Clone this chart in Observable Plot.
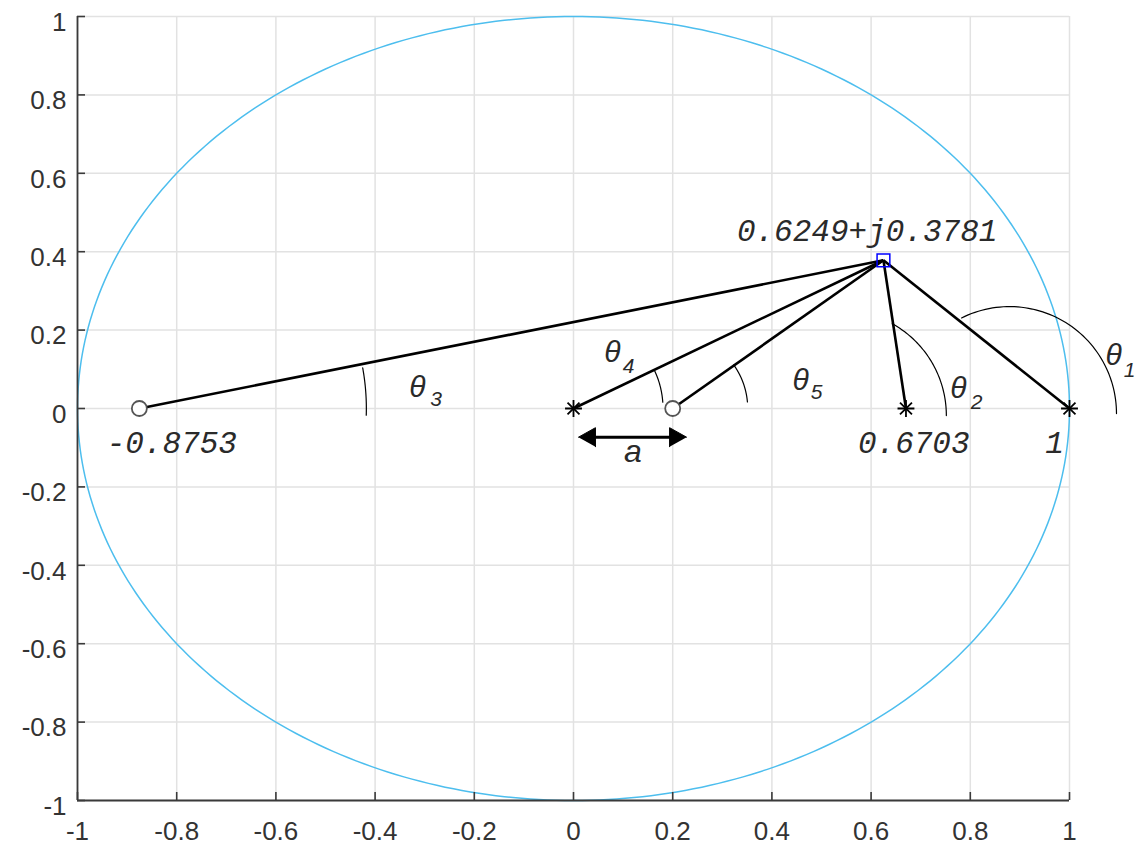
<!DOCTYPE html>
<html>
<head>
<meta charset="utf-8">
<script src="https://cdn.jsdelivr.net/npm/d3@7"></script>
<script src="https://cdn.jsdelivr.net/npm/@observablehq/plot@0.6"></script>
<style>
  body { margin: 0; background: #fff; }
  #chart svg { display: block; }
  [aria-label="ticklabel"] { letter-spacing: 1.5px; }
</style>
</head>
<body>
<div id="chart"></div>
<script>
// ---------- data ----------
const xTicks = [-1, -0.8, -0.6, -0.4, -0.2, 0, 0.2, 0.4, 0.6, 0.8, 1];
const xTickLabels = ["-1", "-0.8", "-0.6", "-0.4", "-0.2", "0", "0.2", "0.4", "0.6", "0.8", "1"];
const yTicks = [-1, -0.8, -0.6, -0.4, -0.2, 0, 0.2, 0.4, 0.6, 0.8, 1];
const yTickLabels = ["-1", "-0.8", "-0.6", "-0.4", "-0.2", "0", "0.2", "0.4", "0.6", "0.8", "1"];

const pointX = 0.6249;
const pointY = 0.3781;
const pointLabel = "0.6249+j0.3781";
const pointLabelPos = [0.592, 0.452];

const zeros = [-0.8753, 0.2];      // 'o' markers
const poles = [0, 0.6703, 1];      // '*' markers

const valueLabels = ["-0.8753", "0.6703", "1"];
const valueLabelX = [-0.81, 0.686, 0.97];
const valueLabelY = -0.087;

// angle arcs: centre (data), radius (px), start/end angle (deg)
const arcNames = ["θ1", "θ2", "θ3", "θ4", "θ5"];
const arcCx = [0.879, 0.540, -0.8753, 0, 0.2];
const arcCy = [-0.013, -0.018, 0, 0, 0];
const arcR = [107, 105, 227, 89.5, 75];
const arcA0 = [0, 0, -1.7, 4, 5];
const arcA1 = [116.6, 61, 10.3, 25, 35.5];

// angle labels: θ + subscript
const angleSubs = ["1", "2", "3", "4", "5"];
const angleLabelX = [1.089, 0.776, -0.3145, 0.0786, 0.4577];
const angleLabelY = [0.135, 0.051, 0.053, 0.143, 0.071];
const angleSubX = [1.121, 0.8125, -0.277, 0.111, 0.4899];
const angleSubY = [0.098, 0.016, 0.024, 0.107, 0.041];

// distance arrow "a"
const arrowX = [0.01, 0.228];
const arrowY = -0.0732;
const arrowLabel = "a";
const arrowLabelPos = [0.1195, -0.1105];

// ---------- layout ----------
const W = 1137, H = 847;
const mL = 77, mR = 68, mT = 16, mB = 47;
const kx = (W - mL - mR) / 2, ky = (H - mT - mB) / 2;

const gridColor = "#e2e2e2";
const axisColor = "#3a3a3a";
const textColor = "#2a2a2a";
const monoFont = "'Liberation Mono', 'Courier New', monospace";
const sansFont = "'Liberation Sans', Arial, sans-serif";

// unit circle
const circle = d3.range(0, 361, 1).map(t => ({x: Math.cos(t * Math.PI / 180), y: Math.sin(t * Math.PI / 180)}));

// arcs (pixel-circular)
const arcPts = [];
arcNames.forEach((n, i) => {
  const step = (arcA1[i] - arcA0[i]) / 60;
  for (let k = 0; k <= 60; k++) {
    const t = (arcA0[i] + k * step) * Math.PI / 180;
    arcPts.push({id: n, x: arcCx[i] + arcR[i] * Math.cos(t) / kx, y: arcCy[i] + arcR[i] * Math.sin(t) / ky});
  }
});

// arrow heads (filled triangles)
const headLen = 17 / kx, headHalf = 9.5 / ky;
const heads = [
  {id: "L", x: arrowX[0], y: arrowY}, {id: "L", x: arrowX[0] + headLen, y: arrowY + headHalf}, {id: "L", x: arrowX[0] + headLen, y: arrowY - headHalf},
  {id: "R", x: arrowX[1], y: arrowY}, {id: "R", x: arrowX[1] - headLen, y: arrowY + headHalf}, {id: "R", x: arrowX[1] - headLen, y: arrowY - headHalf}
];
const shaft = [{x: arrowX[0] + headLen * 0.5, y: arrowY}, {x: arrowX[1] - headLen * 0.5, y: arrowY}];

const targets = [...zeros, ...poles];

const chart = Plot.plot({
  width: W, height: H,
  marginLeft: mL, marginRight: mR, marginTop: mT, marginBottom: mB,
  x: {domain: [-1, 1], axis: null},
  y: {domain: [-1, 1], axis: null},
  style: {background: "#fff", overflow: "visible"},
  marks: [
    // grid
    Plot.ruleX(xTicks, {x: d => d, stroke: gridColor, strokeWidth: 1.5}),
    Plot.ruleY(yTicks, {y: d => d, stroke: gridColor, strokeWidth: 1.5}),
    // unit circle
    Plot.line(circle, {x: "x", y: "y", stroke: "#4DBEEE", strokeWidth: 1.5}),
    // vectors from the point
    Plot.link(targets, {x1: () => pointX, y1: () => pointY, x2: d => d, y2: () => 0, stroke: "#000", strokeWidth: 2.6}),
    // angle arcs
    Plot.line(arcPts, {x: "x", y: "y", z: "id", stroke: "#000", strokeWidth: 1.2}),
    // arrow
    Plot.line(shaft, {x: "x", y: "y", stroke: "#000", strokeWidth: 3}),
    Plot.line(heads, {x: "x", y: "y", z: "id", fill: "#000", stroke: "#000", strokeWidth: 1}),
    // markers
    Plot.dot(zeros, {x: d => d, y: () => 0, r: 7.5, symbol: "circle", fill: "#fff", stroke: "#555", strokeWidth: 1.8}),
    Plot.dot(poles, {x: d => d, y: () => 0, r: 5.5, symbol: "plus", stroke: "#000", strokeWidth: 1.8}),
    Plot.dot(poles, {x: d => d, y: () => 0, r: 5.5, symbol: "times", stroke: "#000", strokeWidth: 1.8}),
    Plot.dot([0], {x: () => pointX, y: () => pointY, r: 7.2, symbol: "square", fill: "none", stroke: "#0000ff", strokeWidth: 1.5}),
    // labels
    Plot.text([pointLabel], {x: () => pointLabelPos[0], y: () => pointLabelPos[1], text: d => d, fontFamily: monoFont, fontStyle: "italic", fontSize: 31, fill: textColor}),
    Plot.text(valueLabels, {x: (d, i) => valueLabelX[i], y: () => valueLabelY, text: d => d, fontFamily: monoFont, fontStyle: "italic", fontSize: 31, fill: textColor}),
    Plot.text(angleSubs, {x: (d, i) => angleLabelX[i], y: (d, i) => angleLabelY[i], text: () => "θ", fontFamily: sansFont, fontStyle: "italic", fontSize: 30, fill: textColor}),
    Plot.text(angleSubs, {x: (d, i) => angleSubX[i], y: (d, i) => angleSubY[i], text: d => d, fontFamily: sansFont, fontStyle: "italic", fontSize: 21, fill: textColor}),
    Plot.text([arrowLabel], {x: () => arrowLabelPos[0], y: () => arrowLabelPos[1], text: d => d, fontFamily: sansFont, fontStyle: "italic", fontSize: 32, fill: textColor}),
    // axes (left + bottom, inward ticks)
    Plot.ruleX([-1], {x: d => d, stroke: axisColor, strokeWidth: 1.8}),
    Plot.ruleY([-1], {y: d => d, stroke: axisColor, strokeWidth: 1.8}),
    Plot.ruleX(xTicks, {x: d => d, y1: () => -1, y2: () => -1, insetBottom: 8, stroke: axisColor, strokeWidth: 1.6}),
    Plot.ruleY(yTicks, {y: d => d, x1: () => -1, x2: () => -1, insetRight: -8, stroke: axisColor, strokeWidth: 1.6}),
    Plot.text(xTicks, {x: d => d, text: (d, i) => xTickLabels[i], frameAnchor: "bottom", lineAnchor: "top", dy: 21, fontFamily: sansFont, fontSize: 26, fill: "#333", ariaLabel: "ticklabel"}),
    Plot.text(yTicks, {y: d => d, text: (d, i) => yTickLabels[i], frameAnchor: "left", textAnchor: "end", dx: -11, dy: 6, fontFamily: sansFont, fontSize: 26, fill: "#333", ariaLabel: "ticklabel"})
  ]
});
document.getElementById("chart").appendChild(chart);
</script>
</body>
</html>
